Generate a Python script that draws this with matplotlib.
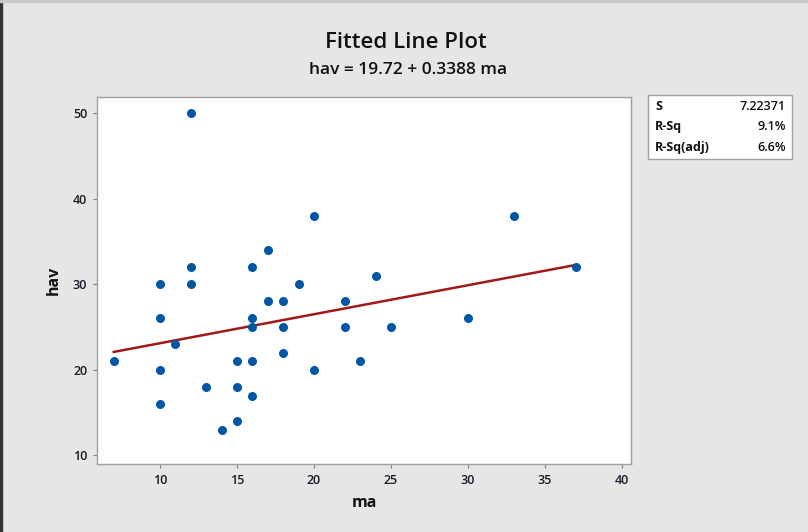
import matplotlib
matplotlib.use("Agg")
import matplotlib.pyplot as plt
from matplotlib.patches import Rectangle

ma = [7, 10, 10, 10, 10, 11, 12, 12, 12, 13, 14, 15, 15, 15, 16, 16, 16, 16, 16,
      17, 17, 18, 18, 18, 19, 20, 20, 22, 22, 23, 24, 25, 30, 33, 37]
hav = [21, 30, 26, 20, 16, 23, 50, 32, 30, 18, 13, 21, 18, 14, 32, 26, 25, 21, 17,
       34, 28, 28, 25, 22, 30, 38, 20, 28, 25, 21, 31, 25, 26, 38, 32]
intercept = 19.72
slope = 0.3388
stat_labels = ["S", "R-Sq", "R-Sq(adj)"]
stat_values = ["7.22371", "9.1%", "6.6%"]
xticks = [10, 15, 20, 25, 30, 35, 40]
yticks = [10, 20, 30, 40, 50]

plt.rcParams['font.family'] = ['Open Sans', 'DejaVu Sans']

W, H = 808, 532
fig = plt.figure(figsize=(W/100, H/100), dpi=100)
bg = '#e6e6e6'
fig.patch.set_facecolor(bg)

# outer frame lines
fig.add_artist(Rectangle((0, 0), 2/W, 1, transform=fig.transFigure, color='#333333', zorder=10))
fig.add_artist(Rectangle((0, 1-2/H), 1, 2/H, transform=fig.transFigure, color='#c8c8c8', zorder=10))

ax = fig.add_axes([97/W, 1-464/H, (631-97)/W, (464-97)/H])
ax.set_facecolor('white')
for s in ax.spines.values():
    s.set_color('#a0a0a0')
    s.set_linewidth(1.0)

ax.scatter(ma, hav, s=42, color='#0055a5', zorder=3, linewidths=0)
x0, x1 = min(ma), max(ma)
ax.plot([x0, x1], [intercept + slope*x0, intercept + slope*x1], color='#a01818', lw=1.8, zorder=2)

ax.set_xlim(5.91, 40.58)
ax.set_ylim(9.0, 51.87)
ax.set_xticks(xticks)
ax.set_yticks(yticks)
ax.tick_params(direction='out', length=3, color='#808080', labelsize=9, labelcolor='#1a1a2a', pad=4)
for lab in ax.get_xticklabels() + ax.get_yticklabels():
    lab.set_fontweight('semibold')
ax.set_xlabel('ma', fontsize=11.5, fontweight='bold', labelpad=6, color='#111111')
ax.set_ylabel('hav', fontsize=11.5, fontweight='bold', labelpad=8, color='#111111')

fig.text(406/W, 1-42/H, 'Fitted Line Plot', ha='center', va='center', fontsize=16, fontweight='semibold', color='#111111')
fig.text(408/W, 1-70/H, 'hav = 19.72 + 0.3388 ma', ha='center', va='center', fontsize=12.5, fontweight='semibold', color='#111111')

# stats box
fig.add_artist(Rectangle((648/W, 1-159/H), (792-648)/W, (159-95)/H, transform=fig.transFigure,
                         facecolor='white', edgecolor='#a0a0a0', lw=1.0))
for i, (lab, val) in enumerate(zip(stat_labels, stat_values)):
    y = 1 - (106 + i*20.5)/H
    fig.text(655/W, y, lab, ha='left', va='center', fontsize=9, fontweight='bold', color='#111111')
    fig.text(786/W, y, val, ha='right', va='center', fontsize=9, fontweight='semibold', color='#111111')

fig.savefig('out.png', dpi=100, facecolor=bg)
